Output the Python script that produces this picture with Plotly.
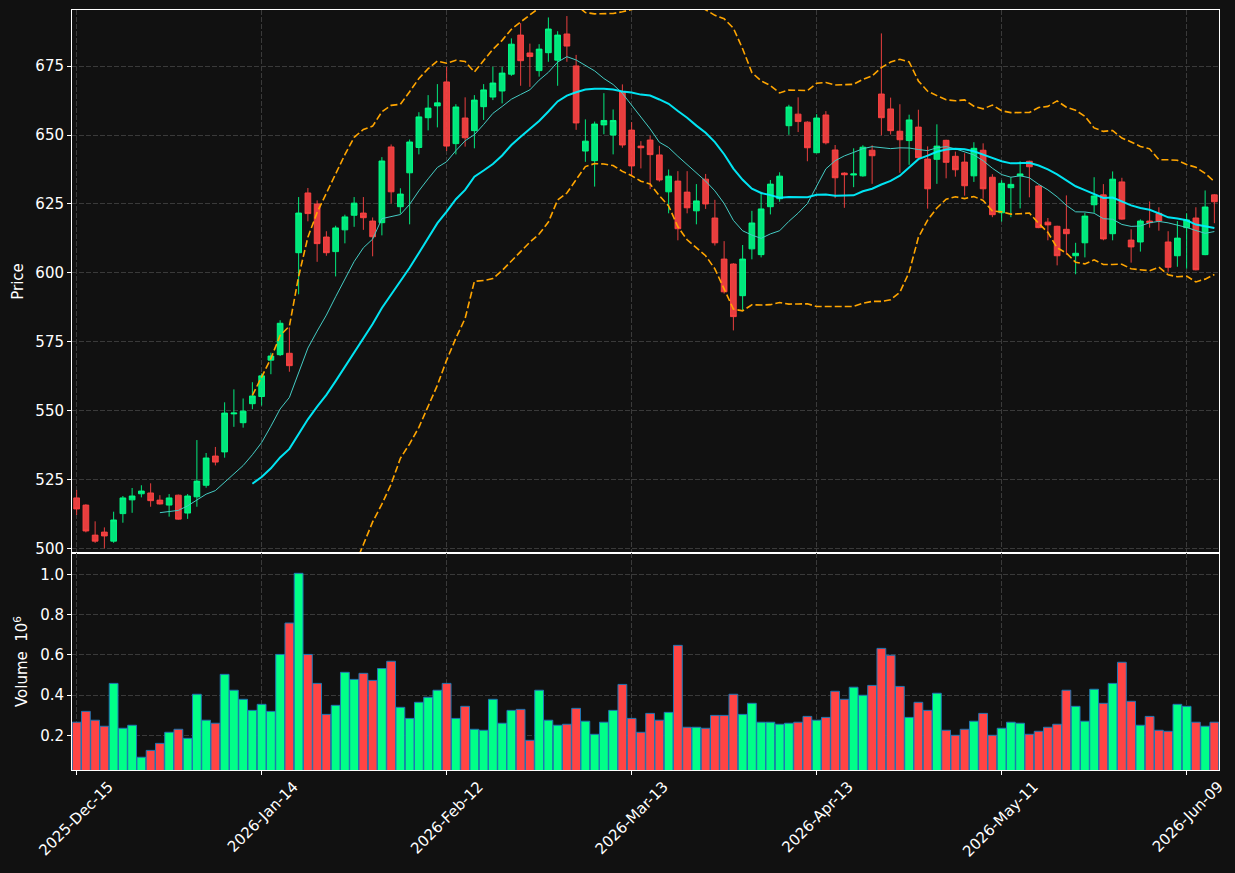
import pandas as pd
import plotly.graph_objects as go

# ---------------- data ----------------
holidays = ["2025-12-25", "2026-01-01", "2026-01-19", "2026-02-16", "2026-04-03", "2026-05-25"]
all_days = pd.bdate_range("2025-12-15", "2026-06-12")
dates = [d for d in all_days if d.strftime("%Y-%m-%d") not in holidays]
date_labels = [d.strftime("%Y-%b-%d") for d in dates]

opens = [518.3, 515.7, 504.8, 505.9, 502.6, 512.6, 517.6, 519.8, 520.1, 517.5,
         515.7, 519.3, 512.8, 518.7, 522.9, 533.5, 535.0, 548.8, 545.6, 552.5,
         555.1, 568.3, 570.3, 570.8, 607.3, 629.0, 625.0, 613.0, 607.7, 615.6,
         620.9, 621.7, 618.8, 618.2, 645.7, 624.0, 636.3, 645.5, 656.3, 660.6,
         669.3, 646.9, 656.2, 651.6, 660.3, 663.8, 666.0, 672.1, 686.3, 679.8,
         673.4, 679.9, 677.2, 686.7, 675.1, 644.2, 640.7, 653.7, 650.0, 665.7,
         651.8, 646.0, 648.2, 642.8, 629.4, 633.3, 629.3, 622.5, 634.0, 619.9,
         605.0, 603.2, 591.7, 608.7, 606.6, 624.0, 626.9, 653.4, 657.6, 654.7,
         643.6, 657.3, 644.6, 636.2, 635.5, 635.2, 644.5, 664.9, 659.5, 651.4,
         648.0, 652.9, 641.3, 641.2, 648.1, 642.3, 640.2, 635.2, 644.5, 634.7,
         621.8, 630.9, 635.2, 640.5, 631.5, 618.4, 616.9, 615.8, 606.2, 610.9,
         624.7, 628.3, 614.2, 633.0, 611.9, 611.2, 618.8, 621.6, 611.2, 606.2,
         616.4, 619.9, 606.6, 628.3]
highs = [521.2, 516.0, 509.8, 507.6, 513.3, 519.0, 521.9, 522.9, 523.6, 519.3,
         519.7, 519.5, 519.7, 539.3, 534.6, 536.8, 553.0, 557.7, 554.4, 560.3,
         563.5, 571.0, 582.8, 580.2, 627.5, 630.8, 626.3, 615.1, 617.1, 621.1,
         627.5, 627.5, 620.1, 642.0, 646.6, 630.7, 648.4, 658.3, 664.5, 668.5,
         674.8, 661.2, 663.7, 664.5, 668.5, 674.8, 674.8, 685.1, 690.6, 683.2,
         683.0, 692.7, 687.7, 693.2, 679.1, 655.7, 654.9, 665.2, 659.3, 668.4,
         654.7, 647.8, 649.8, 646.1, 637.5, 636.9, 636.9, 632.2, 635.9, 626.5,
         611.5, 603.5, 610.1, 622.5, 629.4, 633.7, 636.5, 661.0, 663.7, 655.0,
         657.6, 658.7, 646.4, 636.5, 645.2, 646.3, 646.3, 686.9, 663.6, 661.2,
         657.4, 659.2, 645.9, 653.9, 648.3, 644.0, 643.4, 647.4, 647.0, 635.8,
         633.6, 634.7, 640.5, 640.7, 631.8, 619.9, 617.1, 628.1, 610.9, 621.8,
         634.7, 632.2, 636.8, 634.5, 615.8, 619.4, 625.9, 623.8, 615.1, 618.8,
         621.6, 623.8, 629.9, 628.5]
lows = [512.1, 505.8, 502.0, 500.0, 502.0, 509.3, 512.9, 518.5, 515.1, 515.9,
        511.5, 510.4, 510.7, 515.1, 522.0, 530.1, 532.9, 544.1, 543.8, 550.5,
        551.8, 563.2, 569.8, 564.1, 592.2, 618.7, 604.0, 606.2, 598.7, 610.7,
        616.7, 615.6, 606.0, 613.6, 625.2, 621.5, 617.6, 643.0, 651.7, 652.8,
        644.2, 643.0, 645.8, 645.2, 655.5, 662.7, 661.5, 671.5, 667.9, 667.5,
        671.2, 676.6, 667.9, 676.6, 651.9, 640.3, 631.3, 650.3, 643.0, 645.4,
        635.5, 637.9, 630.4, 633.1, 621.6, 611.8, 621.6, 617.6, 623.2, 609.9,
        592.5, 579.1, 586.4, 604.9, 605.6, 621.2, 625.8, 650.1, 651.1, 640.5,
        643.4, 646.6, 627.1, 623.6, 631.1, 634.9, 632.3, 649.9, 650.2, 636.3,
        639.2, 641.6, 623.3, 632.3, 634.3, 634.9, 628.0, 633.0, 626.9, 620.2,
        618.6, 620.2, 623.4, 627.4, 616.2, 611.8, 602.7, 606.6, 599.5, 605.6,
        621.8, 611.8, 611.8, 619.3, 603.7, 607.7, 616.4, 615.3, 600.4, 602.2,
        601.5, 600.9, 606.4, 618.0]
closes = [514.3, 506.3, 502.6, 504.5, 510.3, 518.3, 519.0, 520.8, 517.3, 516.1,
          518.3, 510.6, 519.0, 524.4, 532.8, 531.3, 549.1, 549.1, 549.8, 555.3,
          562.6, 569.8, 581.7, 566.3, 621.7, 621.5, 610.6, 607.3, 616.3, 620.3,
          625.3, 620.0, 613.1, 640.6, 629.4, 628.6, 647.5, 656.6, 659.8, 661.7,
          646.0, 660.2, 649.0, 662.7, 666.4, 668.9, 672.5, 683.0, 677.0, 678.5,
          681.2, 688.5, 686.3, 682.3, 654.4, 647.8, 654.0, 655.3, 655.3, 646.4,
          638.8, 645.4, 642.9, 633.7, 635.1, 616.0, 623.6, 626.1, 625.0, 610.9,
          593.1, 584.1, 605.0, 618.1, 623.2, 632.2, 635.1, 660.2, 654.9, 645.4,
          656.2, 647.2, 634.5, 635.6, 635.9, 645.6, 642.5, 656.3, 651.6, 648.3,
          655.5, 641.8, 630.5, 646.0, 640.1, 637.4, 631.6, 645.2, 630.5, 621.1,
          632.5, 632.1, 635.9, 638.5, 616.4, 617.4, 606.2, 614.2, 607.1, 620.6,
          627.9, 612.3, 634.0, 619.5, 609.4, 618.8, 618.2, 618.8, 602.0, 612.6,
          619.2, 601.1, 623.9, 625.8]
volumes_m = [0.265, 0.319, 0.275, 0.245, 0.458, 0.235, 0.250, 0.091, 0.125, 0.160,
             0.215, 0.230, 0.185, 0.404, 0.275, 0.260, 0.503, 0.424, 0.379, 0.324,
             0.354, 0.319, 0.602, 0.758, 1.005, 0.602, 0.458, 0.304, 0.349, 0.513,
             0.478, 0.508, 0.473, 0.532, 0.568, 0.339, 0.284, 0.364, 0.389, 0.424,
             0.458, 0.284, 0.344, 0.230, 0.225, 0.379, 0.260, 0.324, 0.329, 0.175,
             0.424, 0.275, 0.250, 0.255, 0.334, 0.270, 0.205, 0.265, 0.324, 0.453,
             0.284, 0.215, 0.309, 0.275, 0.314, 0.647, 0.240, 0.240, 0.235, 0.299,
             0.299, 0.404, 0.304, 0.359, 0.265, 0.265, 0.255, 0.260, 0.265, 0.294,
             0.275, 0.289, 0.419, 0.379, 0.439, 0.399, 0.448, 0.632, 0.598, 0.443,
             0.289, 0.364, 0.324, 0.409, 0.225, 0.200, 0.230, 0.270, 0.309, 0.200,
             0.235, 0.265, 0.260, 0.205, 0.220, 0.240, 0.255, 0.424, 0.344, 0.270,
             0.429, 0.359, 0.458, 0.563, 0.369, 0.250, 0.294, 0.225, 0.220, 0.354,
             0.344, 0.265, 0.245, 0.265]

tick_idx = [0, 20, 40, 60, 80, 100, 120]
price_ticks = [500, 525, 550, 575, 600, 625, 650, 675]
vol_ticks = [0.2, 0.4, 0.6, 0.8, 1.0]

# ---------------- indicators ----------------
s = pd.Series(closes)
ma10 = s.rolling(10).mean()
ma20 = s.rolling(20).mean()
sd20 = s.rolling(20).std()
bb_up = ma20 + 2 * sd20
bb_lo = ma20 - 2 * sd20

def clean(ser):
    return [None if pd.isna(v) else float(v) for v in ser]

UP = "rgba(0,255,136,0.9)"
DN = "rgba(255,68,68,0.9)"
UPV = "#00ff88"
DNV = "#ff4444"
BG = "#111111"
GRID = "#3a3a3a"
FS = 15

vol_colors = [UPV if c >= o else DNV for o, c in zip(opens, closes)]

fig = go.Figure()

fig.add_trace(go.Candlestick(
    x=date_labels, open=opens, high=highs, low=lows, close=closes,
    increasing=dict(line=dict(color=UP, width=1), fillcolor=UP),
    decreasing=dict(line=dict(color=DN, width=1), fillcolor=DN),
    xaxis="x", yaxis="y", showlegend=False, name="Price"))

fig.add_trace(go.Scatter(x=date_labels, y=clean(bb_up), mode="lines",
                         line=dict(color="#ffa500", width=1.6, dash="7px,3px"),
                         xaxis="x", yaxis="y", showlegend=False))
fig.add_trace(go.Scatter(x=date_labels, y=clean(bb_lo), mode="lines",
                         line=dict(color="#ffa500", width=1.6, dash="7px,3px"),
                         xaxis="x", yaxis="y", showlegend=False))
fig.add_trace(go.Scatter(x=date_labels, y=clean(ma10), mode="lines",
                         line=dict(color="#44ccc4", width=1),
                         xaxis="x", yaxis="y", showlegend=False))
fig.add_trace(go.Scatter(x=date_labels, y=clean(ma20), mode="lines",
                         line=dict(color="rgba(0,240,255,0.95)", width=2),
                         xaxis="x", yaxis="y", showlegend=False))

fig.add_trace(go.Bar(x=date_labels, y=volumes_m, width=0.95,
                     marker=dict(color=vol_colors, line=dict(color="#1f77b4", width=1)),
                     xaxis="x2", yaxis="y2", showlegend=False, name="Volume"))

font = dict(family="DejaVu Sans", size=FS, color="#ffffff")
tickvals = [date_labels[i] for i in tick_idx]

common_x = dict(type="category", range=[-0.5, 123.5], showgrid=True, gridcolor=GRID,
                griddash="5px,2px", gridwidth=1, tickvals=tickvals, ticktext=tickvals,
                showline=True, linecolor="#ffffff", linewidth=1, mirror=True,
                zeroline=False, rangeslider=dict(visible=False), ticks="outside",
                tickcolor="#ffffff", ticklen=4, automargin=False)

fig.update_layout(
    width=1235, height=873,
    margin=dict(l=72, r=16, t=10, b=103, autoexpand=False),
    paper_bgcolor=BG, plot_bgcolor=BG,
    font=font, bargap=0.05, boxgap=0.16, boxgroupgap=0.26,
    xaxis=dict(common_x, anchor="y", showticklabels=False, ticks=""),
    xaxis2=dict(common_x, anchor="y2", matches="x", tickangle=-45,
                ticklabelshift=32, ticklabelstandoff=-3,
                tickfont=dict(size=FS, color="#ffffff")),
    yaxis=dict(domain=[0.2855, 1.0], range=[498.3, 695.4], tickvals=price_ticks,
               showgrid=True, gridcolor=GRID, griddash="5px,2px", zeroline=False,
               showline=True, linecolor="#ffffff", linewidth=1, mirror=True,
               ticks="outside", tickcolor="#ffffff", ticklen=4, automargin=False,
               tickfont=dict(size=FS, color="#ffffff"),
               title=dict(text="Price", font=dict(size=FS, color="#ffffff"), standoff=8)),
    yaxis2=dict(domain=[0.0, 0.2855], range=[0.0276, 1.106], tickvals=vol_ticks,
                ticktext=["0.2", "0.4", "0.6", "0.8", "1.0"],
                showgrid=True, gridcolor=GRID, griddash="5px,2px", zeroline=False,
                showline=True, linecolor="#ffffff", linewidth=1, mirror=True,
                ticks="outside", tickcolor="#ffffff", ticklen=4, automargin=False,
                tickfont=dict(size=FS, color="#ffffff"),
                title=dict(text="Volume  10<sup>6</sup>", font=dict(size=FS, color="#ffffff"),
                           standoff=8)),
)

fig.write_html("out.html")
